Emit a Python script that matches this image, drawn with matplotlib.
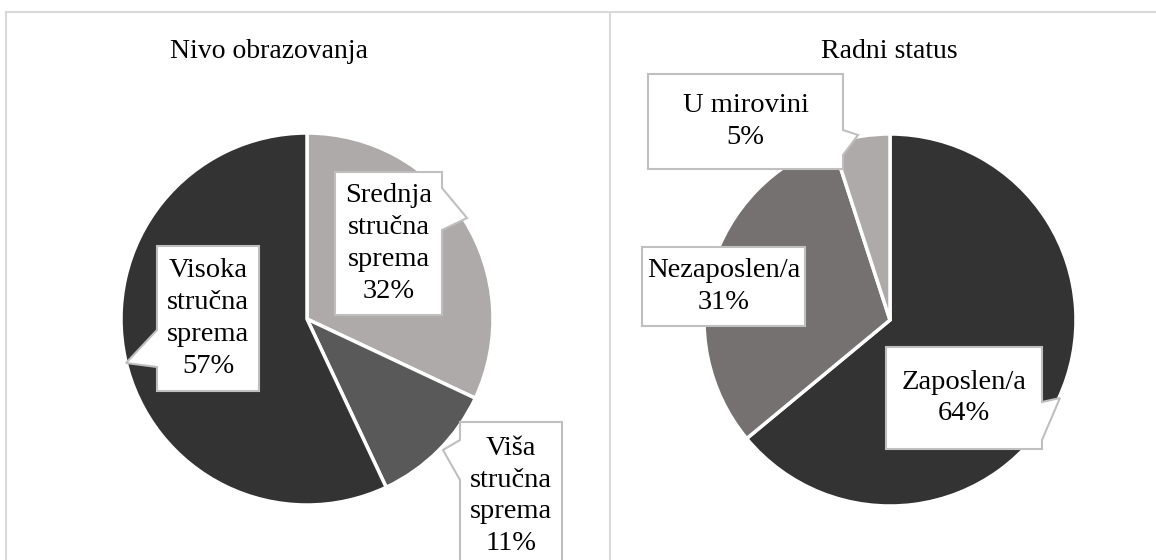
import matplotlib.pyplot as plt
from matplotlib.patches import Polygon

W, H = 1156, 560

# podaci
obr_labels = ['Srednja\nstručna\nsprema', 'Viša\nstručna\nsprema', 'Visoka\nstručna\nsprema']
obr_pct = [32, 11, 57]
obr_colors = ['#aeaaaa', '#595959', '#333333']

rad_labels = ['Zaposlen/a', 'Nezaposlen/a', 'U mirovini']
rad_pct = [64, 31, 5]
rad_colors = ['#333333', '#767171', '#aeaaaa']

# callout boxes in pixel coords: x0, y0, x1, y1, pointer side, base0, base1, tip x, tip y
obr_boxes = [
    (335, 172, 442, 315, 'r', 188, 230, 467, 218),
    (460, 422, 562, 575, 'l', 440, 480, 443, 450),
    (157, 246, 259, 391, 'l', 330, 367, 126, 363),
]
rad_boxes = [
    (886, 347, 1042, 449, 'r', 402, 440, 1060, 398),
    (642, 247, 805, 326, None, 0, 0, 0, 0),
    (648, 74, 843, 169, 'r', 130, 155, 858, 135),
]

plt.rcParams['font.family'] = ['Liberation Serif', 'DejaVu Serif']

fig = plt.figure(figsize=(W / 100, H / 100), dpi=100)
ax = fig.add_axes([0, 0, 1, 1])


def fy(y):
    return H - y


def callout(box, text):
    x0, y0, x1, y1, side, b0, b1, tx, ty = box
    pts = [(x0, y0), (x1, y0)]
    if side == 'r':
        pts += [(x1, b0), (tx, ty), (x1, b1)]
    pts += [(x1, y1), (x0, y1)]
    if side == 'l':
        pts += [(x0, b1), (tx, ty), (x0, b0)]
    poly = Polygon([(x, fy(y)) for x, y in pts], closed=True, facecolor='white',
                   edgecolor='#bfbfbf', linewidth=1.5, zorder=5)
    ax.add_patch(poly)
    cy = (y0 + y1) / 2
    if y1 > H:  # box cut off at the bottom
        cy = y0 + 74
    ax.text((x0 + x1) / 2, fy(cy), text, ha='center', va='center', fontsize=20.5,
            linespacing=1.36, zorder=6)


# frame
ax.plot([6, W], [fy(12), fy(12)], color='#d9d9d9', lw=1.5)
ax.plot([6, 6], [fy(12), 0], color='#d9d9d9', lw=1.5)
ax.plot([610, 610], [fy(12), 0], color='#d9d9d9', lw=1.5)

# lijevi
ax.pie(obr_pct, colors=obr_colors, startangle=90, counterclock=False,
       center=(307, fy(319)), radius=186, frame=True,
       wedgeprops=dict(edgecolor='white', linewidth=2.5))
ax.text(269, fy(52), 'Nivo obrazovanja', ha='center', va='center', fontsize=20)
for b, lab, p in zip(obr_boxes, obr_labels, obr_pct):
    callout(b, f'{lab}\n{p}%')

# desni
ax.pie(rad_pct, colors=rad_colors, startangle=90, counterclock=False,
       center=(890, fy(320)), radius=186, frame=True,
       wedgeprops=dict(edgecolor='white', linewidth=2.5))
ax.text(889, fy(52), 'Radni status', ha='center', va='center', fontsize=20)
for b, lab, p in zip(rad_boxes, rad_labels, rad_pct):
    callout(b, f'{lab}\n{p}%')

ax.set_xlim(0, W)
ax.set_ylim(0, H)
ax.set_aspect('equal')
ax.axis('off')

fig.savefig('out.png', dpi=100)
